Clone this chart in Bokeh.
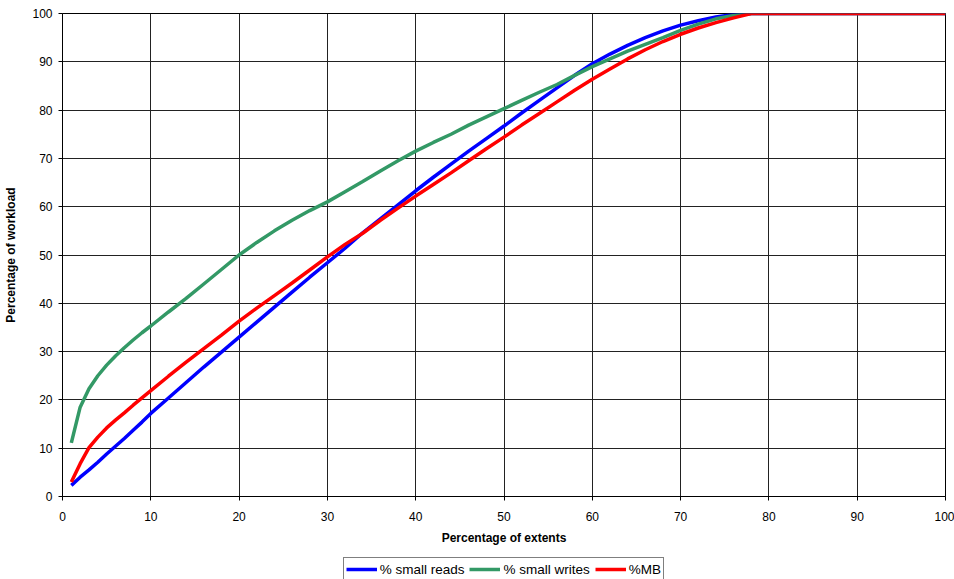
from bokeh.plotting import figure
from bokeh.layouts import column
from bokeh.models import Legend, LegendItem, FixedTicker
from bokeh.embed import file_html
from bokeh.resources import INLINE

x_vals = [1, 2, 3, 4, 5, 6, 7, 8, 9, 10, 12, 14, 16, 18, 20, 22, 24, 26, 28, 30,
          32, 34, 36, 38, 40, 42, 44, 46, 48, 50, 52, 54, 56, 58, 60, 62, 64, 66,
          68, 70, 72, 74, 76, 78, 80, 90, 100]

small_reads = [2.3, 4.0, 5.5, 7.1, 8.8, 10.4, 12.0, 13.7, 15.4, 17.2, 20.4, 23.6,
               26.8, 29.9, 33.0, 36.1, 39.2, 42.3, 45.4, 48.4, 51.4, 54.6, 57.5,
               60.4, 63.3, 66.1, 68.8, 71.5, 74.1, 76.7, 79.4, 82.0, 84.6, 87.2,
               89.6, 91.6, 93.4, 95.0, 96.4, 97.6, 98.5, 99.3, 99.8, 100, 100, 100, 100]

small_writes = [11.1, 18.5, 22.3, 25.0, 27.2, 29.1, 30.8, 32.4, 33.9, 35.3, 38.2,
                41.0, 44.0, 47.0, 50.0, 52.6, 55.0, 57.2, 59.2, 61.0, 63.1, 65.2,
                67.4, 69.5, 71.5, 73.3, 75.0, 76.9, 78.6, 80.3, 82.0, 83.7, 85.3,
                87.2, 89.0, 90.6, 92.2, 93.6, 95.0, 96.5, 97.8, 98.9, 99.6, 100,
                100, 100, 100]

mb = [3.0, 6.8, 10.1, 12.3, 14.2, 15.8, 17.3, 18.9, 20.4, 21.9, 24.9, 27.8, 30.6,
      33.4, 36.3, 39.0, 41.6, 44.2, 46.9, 49.6, 52.2, 54.5, 57.2, 59.7, 62.2,
      64.6, 67.0, 69.5, 72.0, 74.4, 76.9, 79.3, 81.7, 84.1, 86.4, 88.5, 90.6,
      92.5, 94.2, 95.7, 97.0, 98.1, 99.1, 100, 100, 100, 100]

series_names = ["% small reads", "% small writes", "%MB"]
series_colors = ["#0000FF", "#339966", "#FF0000"]
ticks = list(range(0, 101, 10))
all_series = [small_reads, small_writes, mb]

FONT = "Liberation Sans"
LW = 3.5

p = figure(width=954, height=557, output_backend="svg", toolbar_location=None,
           x_range=(0, 100), y_range=(0, 100),
           min_border_left=62, min_border_right=9, min_border_top=13,
           min_border_bottom=61)

p.background_fill_color = "white"
p.border_fill_color = "white"
p.outline_line_color = "black"
p.outline_line_width = 1

for ys, c in zip(all_series, series_colors):
    p.line(x_vals, ys, line_color=c, line_width=LW)

for ax in (p.xaxis[0], p.yaxis[0]):
    ax.ticker = FixedTicker(ticks=ticks)
    ax.minor_tick_line_color = None
    ax.major_tick_in = 0
    ax.major_tick_out = 4
    ax.major_tick_line_color = "black"
    ax.axis_line_color = "black"
    ax.major_label_text_font = FONT
    ax.major_label_text_font_size = "12px"
    ax.major_label_text_color = "black"
    ax.axis_label_text_font = FONT
    ax.axis_label_text_font_size = "12px"
    ax.axis_label_text_font_style = "bold"
    ax.axis_label_text_color = "black"

p.xaxis.axis_label = "Percentage of extents"
p.yaxis.axis_label = "Percentage of workload"
p.xaxis.major_label_standoff = 11
p.xaxis.axis_label_standoff = 7
p.yaxis.major_label_standoff = 6
p.yaxis.axis_label_standoff = 11

for g in (p.xgrid[0], p.ygrid[0]):
    g.ticker = FixedTicker(ticks=ticks)
    g.grid_line_color = "#222222"
    g.grid_line_width = 1

# legend strip below the chart (its frame is aligned with the chart's frame)
lg = figure(width=954, height=22, output_backend="svg", toolbar_location=None,
            x_axis_type=None, y_axis_type=None,
            min_border_left=0, min_border_right=0, min_border_top=0,
            min_border_bottom=0)
lg.outline_line_color = None
lg.grid.visible = False
lg.background_fill_color = "white"
lg.border_fill_color = "white"

# one-point lines: nothing is drawn, they only provide the legend swatches
leg_renderers = [lg.line(x_vals[:1], ys[:1], line_color=c, line_width=LW)
                 for ys, c in zip(all_series, series_colors)]
items = [LegendItem(label=n, renderers=[r]) for n, r in zip(series_names, leg_renderers)]
legend = Legend(items=items, orientation="horizontal",
                location=(280.7, -2),
                glyph_width=31, glyph_height=18, label_height=18,
                label_standoff=3, spacing=5, padding=2, margin=0,
                label_text_font=FONT, label_text_font_size="13.5px",
                label_text_color="black",
                border_line_color="black", border_line_width=1,
                background_fill_color="white", background_fill_alpha=1)
lg.add_layout(legend, "center")

layout = column(p, lg, spacing=0)
open("out.html", "w").write(file_html(layout, INLINE))
